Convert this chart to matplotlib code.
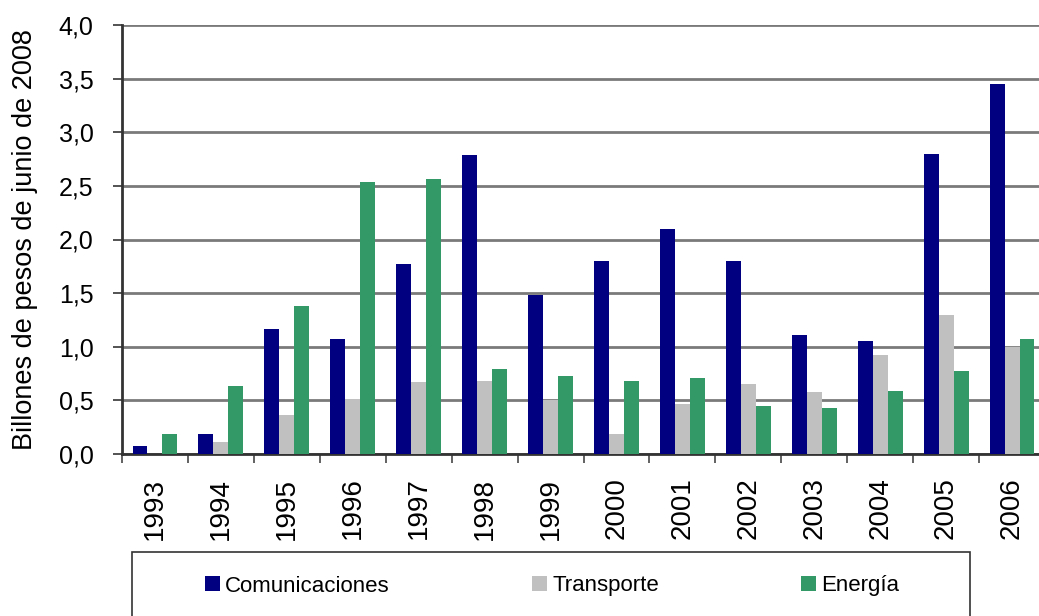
import matplotlib
matplotlib.use("Agg")
import matplotlib.pyplot as plt
import numpy as np
from matplotlib.patches import Rectangle

plt.rcParams['font.family'] = ['Liberation Sans', 'DejaVu Sans']

years = ['1993', '1994', '1995', '1996', '1997', '1998', '1999',
         '2000', '2001', '2002', '2003', '2004', '2005', '2006']
comunicaciones = [0.07, 0.19, 1.17, 1.07, 1.77, 2.79, 1.48,
                  1.80, 2.10, 1.80, 1.11, 1.05, 2.80, 3.45]
transporte = [0.0, 0.11, 0.36, 0.51, 0.67, 0.68, 0.50,
              0.19, 0.47, 0.65, 0.58, 0.92, 1.30, 1.00]
energia = [0.19, 0.63, 1.38, 2.54, 2.56, 0.79, 0.73,
           0.68, 0.71, 0.45, 0.43, 0.59, 0.77, 1.07]

W, H = 1039, 616
fig = plt.figure(figsize=(W / 100, H / 100), dpi=100)
ax = fig.add_axes([122 / W, 1 - 454 / H, 923 / W, 429 / H])

x = np.arange(len(years))
w = 0.227
b1 = ax.bar(x - w, comunicaciones, w, color='#000080', label='Comunicaciones', zorder=3)
b2 = ax.bar(x, transporte, w, color='#C0C0C0', label='Transporte', zorder=3)
b3 = ax.bar(x + w, energia, w, color='#339966', label='Energía', zorder=3)

ax.set_xlim(-0.5, len(years) - 0.5)
ax.set_ylim(0, 4.0)
yt = np.arange(0, 4.01, 0.5)
ax.set_yticks(yt)
ax.set_yticklabels([f'{v:.1f}'.replace('.', ',') for v in yt], fontsize=18)
ax.yaxis.grid(True, color='#7a7a7a', linewidth=2, zorder=0)

# years centred under groups, tick marks between groups
ax.set_xticks(x)
ax.set_xticklabels(years, rotation=90, fontsize=20)
ax.tick_params(axis='x', length=0, pad=17)
ax.set_xticks(np.arange(-0.5, len(years), 1), minor=True)
ax.tick_params(axis='x', which='minor', length=6.5, width=1.3, color='#555555')
ax.tick_params(axis='y', length=6.5, width=1.3, color='#444444', pad=14)

for s in ['top', 'right']:
    ax.spines[s].set_visible(False)
for s in ['left', 'bottom']:
    ax.spines[s].set_linewidth(2)
    ax.spines[s].set_color('#333333')

ax.set_ylabel('Billones de pesos de junio de 2008', fontsize=19.5)
ax.yaxis.set_label_coords(-0.0905, 0.5)

# legend box, cut by bottom edge like the original
fig.patches.append(Rectangle((132 / W, -0.05), (970 - 132) / W, (616 - 552) / H + 0.05,
                             transform=fig.transFigure, fill=False,
                             edgecolor='#333333', linewidth=1.2))
fig.legend(handles=[b1, b2, b3], loc='center left',
           bbox_to_anchor=(205 / W, 1 - 586 / H),
           ncol=3, frameon=False, fontsize=16, handlelength=0.68, handleheight=0.65,
           handletextpad=0.23, columnspacing=6.4, borderpad=0, borderaxespad=0)

fig.savefig('out.png', dpi=100)
